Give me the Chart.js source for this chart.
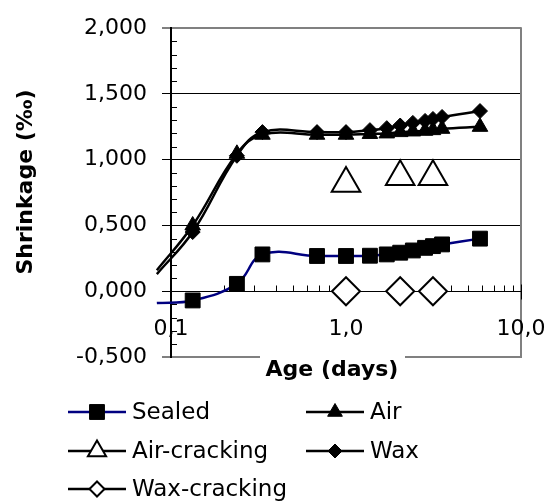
<!DOCTYPE html>
<html><head><meta charset="utf-8">
<script src="https://cdn.jsdelivr.net/npm/chart.js@4.4.1/dist/chart.umd.min.js"></script>
<style>html,body{margin:0;padding:0;background:#fff;}#wrap{width:554px;height:502px;position:relative;}</style>
</head><body><div id="wrap"><canvas id="c" width="554" height="502"></canvas></div>
<script>
// ---- data (age in days, shrinkage in ‰) ----
const ages        = [0.083, 0.133, 0.238, 0.333, 0.683, 1.0, 1.37, 1.71, 2.04, 2.41, 2.83, 3.14, 3.54, 5.83];
const sealed      = [-0.09, -0.07, 0.056, 0.28, 0.268, 0.268, 0.27, 0.28, 0.293, 0.31, 0.33, 0.343, 0.356, 0.40];
const air         = [0.16, 0.50, 1.045, 1.19, 1.19, 1.19, 1.196, 1.20, 1.21, 1.215, 1.22, 1.225, 1.235, 1.25];
const wax         = [0.13, 0.45, 1.03, 1.21, 1.21, 1.21, 1.225, 1.24, 1.26, 1.28, 1.295, 1.31, 1.325, 1.37];
const airCracking = [null, null, null, null, null, 0.82, null, null, 0.87, null, null, 0.87, null, null];
const waxCracking = [null, null, null, null, null, 0.00, null, null, 0.00, null, null, 0.00, null, null];
const seriesNames = ['Sealed', 'Air', 'Air-cracking', 'Wax', 'Wax-cracking'];
const yTicks      = [-0.5, 0, 0.5, 1, 1.5, 2];
const yTickLabels = ['-0,500', '0,000', '0,500', '1,000', '1,500', '2,000'];
const xTicks      = [0.1, 1, 10];
const xTickLabels = ['0,1', '1,0', '10,0'];
const xTitle = 'Age (days)';
const yTitle = 'Shrinkage (‰)';

const FONT = "'DejaVu Sans', sans-serif";
const toXY = arr => ages.map((a, i) => ({x: a, y: arr[i]}));
const hideFirst = r => ctx => (ctx.dataIndex === 0 ? 0 : r);

function markerPath(ctx, style, x, y, r) {
  ctx.beginPath();
  if (style === 'rect') {
    const s = r * Math.SQRT1_2;
    ctx.rect(x - s, y - s, 2 * s, 2 * s);
  } else if (style === 'triangle') {
    for (let k = 0; k < 3; k++) {
      const a = -Math.PI / 2 + k * 2 * Math.PI / 3;
      const px = x + Math.cos(a) * r, py = y + Math.sin(a) * r;
      k ? ctx.lineTo(px, py) : ctx.moveTo(px, py);
    }
    ctx.closePath();
  } else if (style === 'rectRot') {
    ctx.moveTo(x - r, y); ctx.lineTo(x, y - r); ctx.lineTo(x + r, y); ctx.lineTo(x, y + r);
    ctx.closePath();
  }
}

const legendSpec = [
  {name: seriesNames[0], col: 0, row: 0, line: '#000080', style: 'rect', r: 10.5, fill: '#000'},
  {name: seriesNames[1], col: 1, row: 0, line: '#000', style: 'triangle', r: 8.5, fill: '#000'},
  {name: seriesNames[2], col: 0, row: 1, line: '#000', style: 'triangle', r: 10.5, fill: '#fff'},
  {name: seriesNames[3], col: 1, row: 1, line: '#000', style: 'rectRot', r: 7, fill: '#000'},
  {name: seriesNames[4], col: 0, row: 2, line: '#000', style: 'rectRot', r: 7.5, fill: '#fff'}
];

const decor = {
  id: 'decor',
  beforeDatasetsDraw(chart) {
    const {ctx, chartArea: a, scales: {x, y}} = chart;
    ctx.save();
    ctx.strokeStyle = '#808080'; ctx.lineWidth = 2;
    ctx.beginPath(); ctx.moveTo(a.right, a.top - 1); ctx.lineTo(a.right, a.bottom + 1); ctx.stroke();
    ctx.strokeStyle = '#000'; ctx.lineWidth = 1;
    for (let i = -5; i <= 20; i++) {
      if (i % 5 === 0) continue;
      const py = Math.round(y.getPixelForValue(i / 10)) + 0.5;
      ctx.beginPath(); ctx.moveTo(a.left, py); ctx.lineTo(a.left + 6, py); ctx.stroke();
    }
    const y0 = Math.round(y.getPixelForValue(0)) + 0.5;
    ctx.beginPath(); ctx.moveTo(a.left, y0); ctx.lineTo(a.right, y0); ctx.stroke();
    [0.1, 1].forEach(d => {
      for (let k = 2; k <= 9; k++) {
        const px = Math.round(x.getPixelForValue(d * k)) + 0.5;
        ctx.beginPath(); ctx.moveTo(px, y0); ctx.lineTo(px, y0 - 6); ctx.stroke();
      }
    });
    xTicks.forEach(v => {
      const px = Math.round(x.getPixelForValue(v)) + 0.5;
      ctx.beginPath(); ctx.moveTo(px, y0 - 7); ctx.lineTo(px, y0 + 8); ctx.stroke();
    });
    ctx.restore();
  },
  afterDraw(chart) {
    const {ctx, chartArea: a, scales: {x, y}} = chart;
    ctx.save();
    ctx.fillStyle = '#000';
    ctx.font = '22px ' + FONT;
    ctx.textAlign = 'center'; ctx.textBaseline = 'middle';
    const y0 = y.getPixelForValue(0);
    xTicks.forEach((v, i) => ctx.fillText(xTickLabels[i], x.getPixelForValue(v), y0 + 38));
    ctx.font = 'bold 22px ' + FONT;
    ctx.fillStyle = '#fff';
    ctx.fillRect(260, a.bottom - 5, 145, 38);
    ctx.fillStyle = '#000';
    ctx.fillText(xTitle, 332, a.bottom + 13);
    ctx.save();
    ctx.translate(26, 182); ctx.rotate(-Math.PI / 2);
    ctx.fillText(yTitle, 0, 0);
    ctx.restore();
    const colX = [68, 306], rowY = [412, 451, 489];
    ctx.font = '23px ' + FONT;
    ctx.textAlign = 'left';
    legendSpec.forEach(it => {
      const lx = colX[it.col], ly = rowY[it.row];
      ctx.strokeStyle = it.line; ctx.lineWidth = 2.5;
      ctx.beginPath(); ctx.moveTo(lx, ly); ctx.lineTo(lx + 58, ly); ctx.stroke();
      markerPath(ctx, it.style, lx + 29, ly, it.r);
      ctx.fillStyle = it.fill; ctx.fill();
      ctx.strokeStyle = '#000'; ctx.lineWidth = it.fill === '#fff' ? 2 : 1; ctx.stroke();
      ctx.fillStyle = '#000';
      ctx.fillText(it.name, lx + 64, ly + 1);
    });
    ctx.restore();
  }
};

const base = {showLine: true, tension: 0.4, clip: false, fill: false, borderWidth: 2.5, pointBorderWidth: 1};

new Chart(document.getElementById('c'), {
  type: 'scatter',
  data: {
    datasets: [
      Object.assign({}, base, {label: seriesNames[0], data: toXY(sealed), borderColor: '#000080',
        pointStyle: 'rect', pointRadius: hideFirst(10.5), pointBackgroundColor: '#000', pointBorderColor: '#000'}),
      Object.assign({}, base, {label: seriesNames[1], data: toXY(air), borderColor: '#000',
        pointStyle: 'triangle', pointRadius: hideFirst(9), pointBackgroundColor: '#000', pointBorderColor: '#000'}),
      Object.assign({}, base, {label: seriesNames[2], data: toXY(airCracking), borderColor: '#000', spanGaps: false,
        pointStyle: 'triangle', pointRadius: 16.5, pointBackgroundColor: '#fff', pointBorderColor: '#000', pointBorderWidth: 2}),
      Object.assign({}, base, {label: seriesNames[3], data: toXY(wax), borderColor: '#000',
        pointStyle: 'rectRot', pointRadius: hideFirst(7.5), pointBackgroundColor: '#000', pointBorderColor: '#000'}),
      Object.assign({}, base, {label: seriesNames[4], data: toXY(waxCracking), borderColor: '#000', spanGaps: false,
        pointStyle: 'rectRot', pointRadius: 14, pointBackgroundColor: '#fff', pointBorderColor: '#000', pointBorderWidth: 2})
    ]
  },
  options: {
    responsive: false,
    animation: false,
    layout: {padding: {top: 22, right: 33, bottom: 145, left: 0}},
    plugins: {legend: {display: false}, tooltip: {enabled: false}},
    scales: {
      x: {type: 'logarithmic', min: 0.1, max: 10, display: false},
      y: {
        type: 'linear', min: -0.5, max: 2,
        afterBuildTicks: s => { s.ticks = yTicks.map(v => ({value: v})); },
        afterFit: s => { s.width = 171; },
        ticks: {
          color: '#000', padding: 15,
          font: {family: FONT, size: 22},
          callback: v => yTickLabels[yTicks.indexOf(v)]
        },
        grid: {
          color: c => (c.tick && (c.tick.value === -0.5 || c.tick.value === 2)) ? '#808080' : '#000',
          lineWidth: c => (c.tick && (c.tick.value === -0.5 || c.tick.value === 2)) ? 2 : 1,
          tickColor: '#000', tickLength: 9, tickWidth: 1
        },
        border: {display: true, color: '#000', width: 2}
      }
    }
  },
  plugins: [decor]
});
</script>
</body></html>
